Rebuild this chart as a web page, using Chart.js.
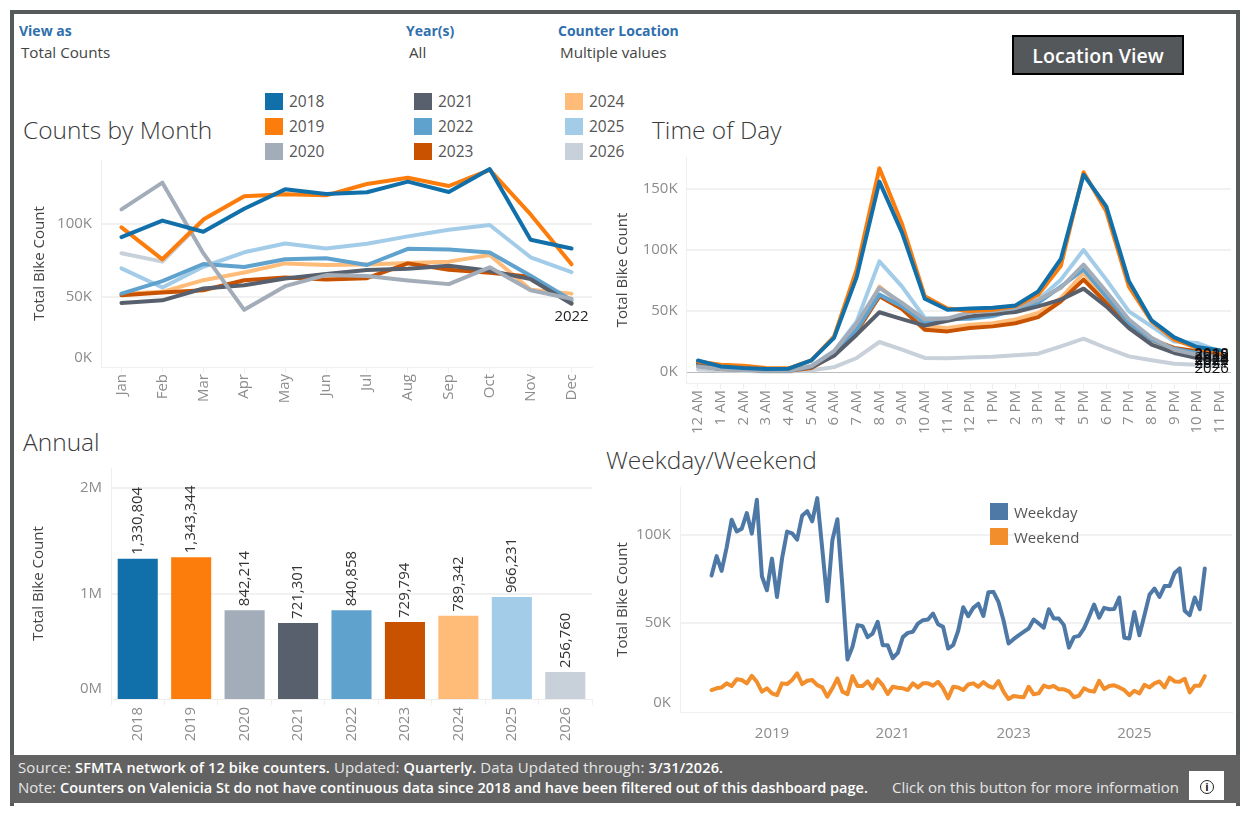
<!DOCTYPE html>
<html><head><meta charset="utf-8">
<script src="https://cdn.jsdelivr.net/npm/chart.js@4"></script>
<style>
html,body{margin:0;padding:0;background:#fff;width:1250px;height:813px;overflow:hidden}
body{font-family:"Open Sans",sans-serif;position:relative}
.a{position:absolute;white-space:nowrap;line-height:1}
canvas{position:absolute}
.frame{position:absolute;left:10px;top:10px;width:1222px;height:792px;border:4px solid #565a5a;border-bottom:0}
.foot{position:absolute;left:10px;top:755px;width:1230px;height:48px;background:#626262}
.ttl{font-size:24.5px;font-weight:300;color:#3a3a3a}
.fh{font-size:14px;font-weight:700;color:#2f6fae}
.fv{font-size:15.2px;color:#444}
.lg{font-size:15.5px;color:#555}
.sw{position:absolute;width:18px;height:17px}
.ft{font-size:15px;color:#e6e6e6}
.ft b{font-weight:600;color:#fff;font-size:14.5px}
</style></head><body>
<div class="frame"></div>
<div class="foot"></div>
<div class="a fh" style="left:19px;top:24px">View as</div>
<div class="a fv" style="left:21px;top:45px">Total Counts</div>
<div class="a fh" style="left:406px;top:24px">Year(s)</div>
<div class="a fv" style="left:409px;top:45px">All</div>
<div class="a fh" style="left:558px;top:24px">Counter Location</div>
<div class="a fv" style="left:560px;top:45px">Multiple values</div>
<div class="a" style="left:1012px;top:35px;width:168px;height:36px;border:2px solid #000;background:#54585a;color:#fff;font-size:19.6px;font-weight:600;text-align:center;line-height:38px">Location View</div>
<div class="a ttl" style="left:23px;top:118px">Counts by Month</div>
<div class="a ttl" style="left:652px;top:118px">Time of Day</div>
<div class="a ttl" style="left:23px;top:430px">Annual</div>
<div class="a ttl" style="left:606px;top:448px">Weekday/Weekend</div>
<div id="legend"></div>
<canvas id="cMonth"></canvas>
<canvas id="cHour"></canvas>
<canvas id="cYear"></canvas>
<canvas id="cWeek"></canvas>
<div class="a" style="left:1014px;top:505px;font-size:15px;color:#555">Weekday</div>
<div class="a" style="left:1014px;top:530px;font-size:15px;color:#555">Weekend</div>
<div class="sw" style="left:990px;top:503px;background:#4e79a7"></div>
<div class="sw" style="left:990px;top:528px;background:#f28e2b"></div>
<div class="a ft" style="left:18px;top:760px;letter-spacing:0.13px">Source: <b>SFMTA network of 12 bike counters.</b> Updated: <b>Quarterly.</b> Data Updated through: <b>3/31/2026.</b></div>
<div class="a ft" style="left:18px;top:780px">Note: <b>Counters on Valenicia St do not have continuous data since 2018 and have been filtered out of this dashboard page.</b></div>
<div class="a ft" style="left:892px;top:780px">Click on this button for more information</div>
<div class="a" style="left:1189px;top:771px;width:35px;height:29px;background:#fff"></div>
<div class="a" style="left:1200px;top:780px;width:12px;height:12px;border:1px solid #222;border-radius:50%;color:#111;font-size:11px;font-weight:700;text-align:center;line-height:12px">i</div>
<script>
const years=['2018','2019','2020','2021','2022','2023','2024','2025','2026'];
const yearColors=['#1170aa','#fc7d0b','#a3acb9','#57606c','#5fa2ce','#c85200','#ffbc79','#a3cce9','#c8d0d9'];
const months=['Jan','Feb','Mar','Apr','May','Jun','Jul','Aug','Sep','Oct','Nov','Dec'];
const hours=['12 AM','1 AM','2 AM','3 AM','4 AM','5 AM','6 AM','7 AM','8 AM','9 AM','10 AM','11 AM','12 PM','1 PM','2 PM','3 PM','4 PM','5 PM','6 PM','7 PM','8 PM','9 PM','10 PM','11 PM'];

const month2018=[91,102.3,94.7,110.4,123.7,120.5,121.7,129,121.9,137.6,89.2,83.2];
const month2019=[97.7,75.8,103,118.9,120.3,119.6,127.4,131.6,126,137,106.5,72.4];
const month2020=[110,128.3,80,41.2,57.4,65,64.3,61.3,58.8,70.3,54.6,48.8];
const month2021=[45.9,47.7,55.8,58,62.7,65.7,68.4,69.4,71.4,68,62.2,45.4];
const month2022=[52.3,60.8,72.6,70.5,75.8,76.5,71.9,83,82.5,80.4,64.5,47.7];
const month2023=[51.2,53,54.6,61.5,63.4,62,62.9,73,68.7,66.6,63.8,45.9];
const month2024=[52,53.5,61.5,66.8,73,71.9,72.3,73.3,74.2,78.8,55,52.3];
const month2025=[69.6,56.5,70.7,80.6,86.6,83.2,86.4,91.5,96,99.3,77.2,67];
const month2026=[80,74.2,102.5];

const hour2018=[9.5,4.6,3.3,2.5,2.7,9.5,28,78,156,114,60,51,52,52.7,54.6,66,92.6,161.7,135.8,74.3,42.3,28.4,20.5,17.8];
const hour2019=[8.7,6,5.2,3.3,3,9.5,29,84,167,121,62,52,50,51,54,63.4,87,163.7,131.7,70,41.5,26.5,19.7,17];
const hour2020=[4.6,2.5,1.6,1,1,4.6,17,40,69,56.6,43,44,49,50,52.5,59,69,88,66,43,28,18.3,14.2,11.5];
const hour2021=[7.4,3.3,2.5,1.4,1.4,4,13.4,30.6,49,43.4,38,42,45.6,47.5,49.2,53.8,59.3,68.3,53.8,36,22.4,15.6,11.5,9.6];
const hour2022=[6,2.5,2,1,1,4,14,34.7,63.4,53.8,40,43,44,46,51,56.6,70,84,62,40,26.5,19,15.6,11.5];
const hour2023=[5.2,2.5,2,1,1,3.3,14,33,62,51.6,34.7,33.3,36,37.4,40,45,58,75.7,56.6,38.8,26.5,19.7,17,14];
const hour2024=[5.2,2.5,2,1,1,3.3,15.6,36,70,55,37.4,36,38.8,40,43,48.4,60.6,81,59.3,40,26,19,15.6,12.3];
const hour2025=[8,4,2.7,1.6,1.6,5.2,17,41.5,90.7,70,44.3,43.4,43.4,45.6,51,59.3,75.7,100,75.7,49.7,37.4,25,23.8,17];
const hour2026=[2,1.4,0.8,0.5,0.5,1.4,4,11.5,24.6,18.3,11.5,11.2,12,12.6,13.7,15,21,27.3,19.7,12.8,9.6,6.8,6,5.2];

const annualTotals=[1330804,1343344,842214,721301,840858,729794,789342,966231,256760];

const weekdaySeries=[77,88,79.6,93,108.7,102,103.6,112.5,100.8,120,76.6,68.6,
86.6,64.8,86.6,102,101,97.4,111,113.6,107.8,121,92,62.4,
97,109,70.5,29.3,36.5,48.8,48.2,42,44,50.7,37.4,37.4,
30,33,42,44.4,45,49.7,51.6,52,55.4,49.3,47.8,35.5,
37.4,45.6,59,53.9,58.6,61,54,67.5,67.7,62,51.6,38.4,
40.8,43,45,46.9,52,49.7,47.3,57.8,52.5,52.5,48.8,36,
42,42.7,46.9,53.5,60.5,53,58.6,57.8,58,64.5,41.6,41.2,
56.3,43,54.4,66,69.6,64.8,71,71,78.4,81,57,54.4,
64.5,57.8,81];
const weekendSeries=[11.9,12.9,13.4,15.7,14.2,18,17.6,15.7,20,16.6,11,12.9,
10,9,15.7,15.3,17.6,21.4,15.3,17.2,17.6,14.7,13.4,8.1,
12.9,18.5,11,9.6,19.8,14.2,14.2,16.8,12.9,18,14.7,9.6,
13.8,13.2,12.9,11.9,15.7,13.4,15.7,15.7,14.4,16.6,12.9,7.2,
13.8,13.4,11.9,15.1,15.7,13.8,16.4,14.2,13.2,17,11,6.8,
8.5,8.1,7.8,13.8,9.5,10,14.4,13.4,14.2,12.3,12.3,11.2,
7.8,8.7,12.9,11.5,11,17.2,12.5,14.2,14.6,13.4,11.9,9,
11.5,10,14.9,13.4,15.7,16.8,13.4,19,16.8,16.6,18.3,10.6,
14.4,14.4,19.8];
const weekTickMonths=[12,36,60,84];
const firstYear=2018;

const monthSeries=[month2018,month2019,month2020,month2021,month2022,month2023,month2024,month2025,month2026];
const hourSeries=[hour2018,hour2019,hour2020,hour2021,hour2022,hour2023,hour2024,hour2025,hour2026];

const FONT='"Open Sans", sans-serif';
const tickColor='#8c8c8c', gridColor='#f1f1f1', edge='#efefef';
Chart.defaults.font.family=FONT;
Chart.defaults.animation=false;

// legend
const lg=document.getElementById('legend');
const legX=[265,414,565], legY=[93,118,143];
years.forEach((y,i)=>{
  const c=Math.floor(i/3), r=i%3;
  lg.insertAdjacentHTML('beforeend',
   `<div class="sw" style="left:${legX[c]}px;top:${legY[r]}px;background:${yearColors[i]}"></div>`+
   `<div class="a lg" style="left:${legX[c]+24}px;top:${legY[r]+1}px">${y}</div>`);
});

function place(id,box){
  const c=document.getElementById(id);
  c.width=box.R-box.L; c.height=box.B-box.T;
  c.style.left=box.L+'px'; c.style.top=box.T+'px';
  c.style.width=(box.R-box.L)+'px'; c.style.height=(box.B-box.T)+'px';
  return c;
}
function yAxis(box,o){
  return {
    min:o.min,max:o.max,
    afterFit(s){s.width=box.pL-box.L;},
    afterBuildTicks(s){s.ticks=o.ticks.map(v=>({value:v}));},
    title:{display:true,text:'Total Bike Count',color:'#444',font:{size:15},padding:0},
    border:{display:true,color:edge,width:1},
    grid:{drawTicks:false,lineWidth:2,
      color:c=>o.noGrid.includes(c.tick.value)?'rgba(0,0,0,0)':gridColor},
    ticks:{padding:9,color:tickColor,font:{size:15},callback:o.fmt}
  };
}
function xCat(box,o){
  return {
    offset:true,
    afterFit(s){s.height=box.B-box.pB;},
    border:{display:true,color:edge},
    grid:{drawOnChartArea:false,tickLength:6,color:edge,tickColor:edge},
    ticks:{color:tickColor,font:{size:15},maxRotation:90,minRotation:90,autoSkip:false,padding:o.pad}
  };
}
function pad(box){return {left:0,top:box.pT-box.T,right:box.R-box.pR,bottom:0};}
function lineDS(label,data,color,w){
  return {label,data,borderColor:color,backgroundColor:color,borderWidth:w,pointRadius:0,tension:0,
    borderJoinStyle:'round',borderCapStyle:'round',fill:false,spanGaps:false};
}

// Counts by Month
const bM={L:31,T:130,R:620,B:412,pL:101,pR:592,pT:160,pB:367};
new Chart(place('cMonth',bM),{
  type:'line',
  data:{labels:months,datasets:years.map((y,i)=>lineDS(y,monthSeries[i],yearColors[i],4))},
  options:{responsive:false,layout:{padding:pad(bM)},plugins:{legend:{display:false},tooltip:{enabled:false}},
    scales:{x:xCat(bM,{pad:1}),
      y:yAxis(bM,{min:2.05,max:143.8,ticks:[8.2,50,100],noGrid:[8.2],fmt:v=>v===8.2?'0K':v+'K'})}},
  plugins:[{id:'endLabel',afterDatasetsDraw(ch){
    const m=ch.getDatasetMeta(years.indexOf('2022')), p=m.data[11], ctx=ch.ctx;
    ctx.save();ctx.fillStyle='#222';ctx.font='15px '+FONT;ctx.textAlign='center';ctx.textBaseline='middle';
    ctx.fillText('2022',p.x,p.y+16);ctx.restore();
  }}]
});

// Time of Day
const bH={L:614,T:127,R:1250,B:440,pL:686.6,pR:1231,pT:157,pB:383};
new Chart(place('cHour',bH),{
  type:'line',
  data:{labels:hours,datasets:years.map((y,i)=>lineDS(y,hourSeries[i],yearColors[i],4))},
  options:{responsive:false,layout:{padding:pad(bH)},plugins:{legend:{display:false},tooltip:{enabled:false}},
    scales:{x:xCat(bH,{pad:1}),
      y:(()=>{const a=yAxis(bH,{min:-9,max:176.2,ticks:[0,50,100,150],noGrid:[],fmt:v=>v+'K'});
        a.grid.color=c=>c.tick.value===0?'#bbbbbb':gridColor;
        a.grid.lineWidth=c=>c.tick.value===0?1:2;
        a.grid.tickBorderDash=c=>c.tick.value===0?[3,3]:[];
        return a;})()}},
  plugins:[{id:'endLabels',afterDatasetsDraw(ch){
    const ctx=ch.ctx;ctx.save();ctx.fillStyle='#111';ctx.font='15px '+FONT;ctx.textAlign='center';ctx.textBaseline='middle';
    years.forEach((y,i)=>{const p=ch.getDatasetMeta(i).data[23];ctx.fillText(y,p.x-8,p.y+3);});
    ctx.restore();
  }}]
});

// Annual
const bY={L:30,T:438,R:620,B:748,pL:111,pR:592,pT:468,pB:699};
new Chart(place('cYear',bY),{
  type:'bar',
  data:{labels:years,datasets:[{data:annualTotals,backgroundColor:yearColors,barPercentage:0.75,categoryPercentage:1}]},
  options:{responsive:false,layout:{padding:pad(bY)},plugins:{legend:{display:false},tooltip:{enabled:false}},
    scales:{x:xCat(bY,{pad:2}),
      y:yAxis(bY,{min:0,max:2190000,ticks:[95000,1000000,2000000],noGrid:[95000],fmt:v=>v===95000?'0M':(v/1e6)+'M'})}},
  plugins:[{id:'valueLabels',afterDatasetsDraw(ch){
    const ctx=ch.ctx;
    ch.getDatasetMeta(0).data.forEach((b,i)=>{
      ctx.save();ctx.translate(b.x,b.y-4);ctx.rotate(-Math.PI/2);
      ctx.fillStyle='#333';ctx.font='15px '+FONT;ctx.textAlign='left';ctx.textBaseline='middle';
      ctx.fillText(annualTotals[i].toLocaleString('en-US'),0,0);ctx.restore();
    });
  }}]
});

// Weekday/Weekend
const bW={L:614,T:457,R:1250,B:748,pL:680,pR:1232,pT:487,pB:712};
const toXY=a=>a.map((v,i)=>({x:i,y:v}));
new Chart(place('cWeek',bW),{
  type:'line',
  data:{datasets:[lineDS('Weekday',toXY(weekdaySeries),'#4e79a7',4),lineDS('Weekend',toXY(weekendSeries),'#f28e2b',4)]},
  options:{responsive:false,layout:{padding:pad(bW)},plugins:{legend:{display:false},tooltip:{enabled:false}},
    scales:{
      x:{type:'linear',min:-6.27,max:103.4,
        afterFit(s){s.height=bW.B-bW.pB;},
        afterBuildTicks(s){s.ticks=weekTickMonths.map(v=>({value:v}));},
        border:{display:true,color:edge},
        grid:{display:false},
        ticks:{color:tickColor,font:{size:15},maxRotation:0,padding:5,callback:v=>String(firstYear+v/12)}},
      y:yAxis(bW,{min:-0.57,max:127.3,ticks:[4.5,50,100],noGrid:[4.5],fmt:v=>v===4.5?'0K':v+'K'})}}
});
</script>
</body></html>
